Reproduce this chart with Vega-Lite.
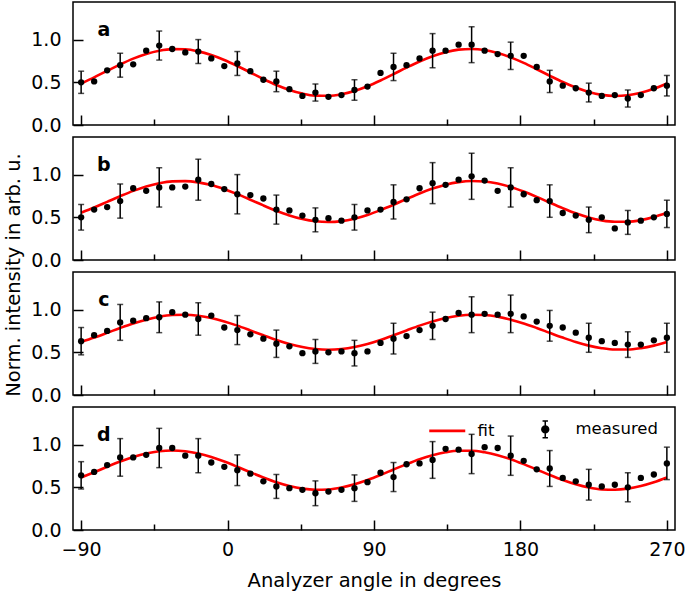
{
"$schema": "https://vega.github.io/schema/vega-lite/v6.json",
"padding": {"left": 2, "top": 1, "right": 0, "bottom": 0},
"background": "white",
"datasets": {"m": [
{"p":"a","x":-90,"v":0.50,"e":0.13,"f":0.486},{"p":"a","x":-82,"v":0.51,"f":0.558},{"p":"a","x":-74,"v":0.64,"f":0.634},{"p":"a","x":-66,"v":0.70,"e":0.14,"f":0.709},{"p":"a","x":-58,"v":0.71,"f":0.777},{"p":"a","x":-50,"v":0.87,"f":0.832},{"p":"a","x":-42,"v":0.93,"e":0.17,"f":0.870},{"p":"a","x":-34,"v":0.89,"f":0.888},{"p":"a","x":-26,"v":0.85,"f":0.886},{"p":"a","x":-18,"v":0.86,"e":0.14,"f":0.862},{"p":"a","x":-10,"v":0.78,"f":0.819},{"p":"a","x":-2,"v":0.69,"f":0.761},{"p":"a","x":6,"v":0.72,"e":0.14,"f":0.691},{"p":"a","x":14,"v":0.63,"f":0.615},{"p":"a","x":22,"v":0.53,"f":0.539},{"p":"a","x":30,"v":0.51,"e":0.12,"f":0.469},{"p":"a","x":38,"v":0.42,"f":0.411},{"p":"a","x":46,"v":0.34,"f":0.368},{"p":"a","x":54,"v":0.38,"e":0.10,"f":0.344},{"p":"a","x":62,"v":0.33,"f":0.342},{"p":"a","x":70,"v":0.35,"f":0.360},{"p":"a","x":78,"v":0.41,"e":0.12,"f":0.398},{"p":"a","x":86,"v":0.45,"f":0.453},{"p":"a","x":94,"v":0.61,"f":0.521},{"p":"a","x":102,"v":0.68,"e":0.16,"f":0.596},{"p":"a","x":110,"v":0.70,"f":0.672},{"p":"a","x":118,"v":0.78,"f":0.744},{"p":"a","x":126,"v":0.87,"e":0.20,"f":0.806},{"p":"a","x":134,"v":0.87,"f":0.853},{"p":"a","x":142,"v":0.94,"f":0.882},{"p":"a","x":150,"v":0.94,"e":0.21,"f":0.890},{"p":"a","x":158,"v":0.87,"f":0.877},{"p":"a","x":166,"v":0.83,"f":0.843},{"p":"a","x":174,"v":0.81,"e":0.16,"f":0.792},{"p":"a","x":182,"v":0.81,"f":0.727},{"p":"a","x":190,"v":0.68,"f":0.653},{"p":"a","x":198,"v":0.51,"e":0.13,"f":0.577},{"p":"a","x":206,"v":0.46,"f":0.503},{"p":"a","x":214,"v":0.43,"f":0.438},{"p":"a","x":222,"v":0.38,"e":0.11,"f":0.387},{"p":"a","x":230,"v":0.34,"f":0.353},{"p":"a","x":238,"v":0.35,"f":0.340},{"p":"a","x":246,"v":0.31,"e":0.10,"f":0.348},{"p":"a","x":254,"v":0.35,"f":0.377},{"p":"a","x":262,"v":0.43,"f":0.424},{"p":"a","x":270,"v":0.46,"e":0.12,"f":0.486},
{"p":"b","x":-90,"v":0.50,"e":0.15,"f":0.554},{"p":"b","x":-82,"v":0.59,"f":0.615},{"p":"b","x":-74,"v":0.62,"f":0.681},{"p":"b","x":-66,"v":0.69,"e":0.20,"f":0.747},{"p":"b","x":-58,"v":0.84,"f":0.809},{"p":"b","x":-50,"v":0.81,"f":0.861},{"p":"b","x":-42,"v":0.85,"e":0.23,"f":0.899},{"p":"b","x":-34,"v":0.85,"f":0.921},{"p":"b","x":-26,"v":0.86,"f":0.924},{"p":"b","x":-18,"v":0.94,"e":0.24,"f":0.909},{"p":"b","x":-10,"v":0.89,"f":0.877},{"p":"b","x":-2,"v":0.83,"f":0.829},{"p":"b","x":6,"v":0.77,"e":0.23,"f":0.771},{"p":"b","x":14,"v":0.76,"f":0.706},{"p":"b","x":22,"v":0.72,"f":0.639},{"p":"b","x":30,"v":0.59,"e":0.17,"f":0.576},{"p":"b","x":38,"v":0.58,"f":0.521},{"p":"b","x":46,"v":0.52,"f":0.479},{"p":"b","x":54,"v":0.47,"e":0.14,"f":0.453},{"p":"b","x":62,"v":0.49,"f":0.445},{"p":"b","x":70,"v":0.46,"f":0.455},{"p":"b","x":78,"v":0.50,"e":0.15,"f":0.484},{"p":"b","x":86,"v":0.58,"f":0.528},{"p":"b","x":94,"v":0.59,"f":0.584},{"p":"b","x":102,"v":0.68,"e":0.20,"f":0.647},{"p":"b","x":110,"v":0.71,"f":0.714},{"p":"b","x":118,"v":0.84,"f":0.779},{"p":"b","x":126,"v":0.90,"e":0.24,"f":0.836},{"p":"b","x":134,"v":0.88,"f":0.882},{"p":"b","x":142,"v":0.94,"f":0.912},{"p":"b","x":150,"v":0.98,"e":0.27,"f":0.925},{"p":"b","x":158,"v":0.93,"f":0.919},{"p":"b","x":166,"v":0.81,"f":0.895},{"p":"b","x":174,"v":0.85,"e":0.23,"f":0.855},{"p":"b","x":182,"v":0.77,"f":0.801},{"p":"b","x":190,"v":0.70,"f":0.739},{"p":"b","x":198,"v":0.69,"e":0.19,"f":0.672},{"p":"b","x":206,"v":0.55,"f":0.607},{"p":"b","x":214,"v":0.52,"f":0.547},{"p":"b","x":222,"v":0.47,"e":0.15,"f":0.498},{"p":"b","x":230,"v":0.50,"f":0.464},{"p":"b","x":238,"v":0.37,"f":0.447},{"p":"b","x":246,"v":0.44,"e":0.14,"f":0.448},{"p":"b","x":254,"v":0.46,"f":0.467},{"p":"b","x":262,"v":0.50,"f":0.504},{"p":"b","x":270,"v":0.54,"e":0.16,"f":0.554},
{"p":"c","x":-90,"v":0.63,"e":0.16,"f":0.620},{"p":"c","x":-82,"v":0.70,"f":0.672},{"p":"c","x":-74,"v":0.75,"f":0.728},{"p":"c","x":-66,"v":0.85,"e":0.21,"f":0.785},{"p":"c","x":-58,"v":0.87,"f":0.838},{"p":"c","x":-50,"v":0.90,"f":0.882},{"p":"c","x":-42,"v":0.91,"e":0.18,"f":0.916},{"p":"c","x":-34,"v":0.97,"f":0.936},{"p":"c","x":-26,"v":0.94,"f":0.940},{"p":"c","x":-18,"v":0.89,"e":0.19,"f":0.928},{"p":"c","x":-10,"v":0.93,"f":0.901},{"p":"c","x":-2,"v":0.79,"f":0.861},{"p":"c","x":6,"v":0.76,"e":0.17,"f":0.812},{"p":"c","x":14,"v":0.71,"f":0.756},{"p":"c","x":22,"v":0.66,"f":0.699},{"p":"c","x":30,"v":0.60,"e":0.16,"f":0.645},{"p":"c","x":38,"v":0.57,"f":0.598},{"p":"c","x":46,"v":0.49,"f":0.561},{"p":"c","x":54,"v":0.51,"e":0.14,"f":0.538},{"p":"c","x":62,"v":0.50,"f":0.530},{"p":"c","x":70,"v":0.51,"f":0.538},{"p":"c","x":78,"v":0.49,"e":0.15,"f":0.561},{"p":"c","x":86,"v":0.51,"f":0.598},{"p":"c","x":94,"v":0.61,"f":0.645},{"p":"c","x":102,"v":0.66,"e":0.18,"f":0.699},{"p":"c","x":110,"v":0.69,"f":0.756},{"p":"c","x":118,"v":0.76,"f":0.812},{"p":"c","x":126,"v":0.81,"e":0.16,"f":0.861},{"p":"c","x":134,"v":0.89,"f":0.901},{"p":"c","x":142,"v":0.96,"f":0.928},{"p":"c","x":150,"v":0.94,"e":0.21,"f":0.940},{"p":"c","x":158,"v":0.95,"f":0.936},{"p":"c","x":166,"v":0.94,"f":0.916},{"p":"c","x":174,"v":0.95,"e":0.22,"f":0.882},{"p":"c","x":182,"v":0.92,"f":0.838},{"p":"c","x":190,"v":0.86,"f":0.785},{"p":"c","x":198,"v":0.81,"e":0.18,"f":0.728},{"p":"c","x":206,"v":0.79,"f":0.672},{"p":"c","x":214,"v":0.73,"f":0.620},{"p":"c","x":222,"v":0.67,"e":0.17,"f":0.578},{"p":"c","x":230,"v":0.63,"f":0.548},{"p":"c","x":238,"v":0.61,"f":0.532},{"p":"c","x":246,"v":0.59,"e":0.15,"f":0.532},{"p":"c","x":254,"v":0.59,"f":0.548},{"p":"c","x":262,"v":0.64,"f":0.578},{"p":"c","x":270,"v":0.67,"e":0.17,"f":0.620},
{"p":"d","x":-90,"v":0.64,"e":0.16,"f":0.614},{"p":"d","x":-82,"v":0.68,"f":0.676},{"p":"d","x":-74,"v":0.76,"f":0.740},{"p":"d","x":-66,"v":0.85,"e":0.22,"f":0.801},{"p":"d","x":-58,"v":0.85,"f":0.854},{"p":"d","x":-50,"v":0.88,"f":0.895},{"p":"d","x":-42,"v":0.96,"e":0.23,"f":0.921},{"p":"d","x":-34,"v":0.96,"f":0.930},{"p":"d","x":-26,"v":0.87,"f":0.921},{"p":"d","x":-18,"v":0.87,"e":0.20,"f":0.895},{"p":"d","x":-10,"v":0.79,"f":0.854},{"p":"d","x":-2,"v":0.74,"f":0.801},{"p":"d","x":6,"v":0.70,"e":0.18,"f":0.740},{"p":"d","x":14,"v":0.66,"f":0.676},{"p":"d","x":22,"v":0.57,"f":0.614},{"p":"d","x":30,"v":0.51,"e":0.14,"f":0.558},{"p":"d","x":38,"v":0.49,"f":0.514},{"p":"d","x":46,"v":0.47,"f":0.484},{"p":"d","x":54,"v":0.43,"e":0.145,"f":0.471},{"p":"d","x":62,"v":0.45,"f":0.475},{"p":"d","x":70,"v":0.47,"f":0.497},{"p":"d","x":78,"v":0.49,"e":0.155,"f":0.535},{"p":"d","x":86,"v":0.56,"f":0.585},{"p":"d","x":94,"v":0.67,"f":0.644},{"p":"d","x":102,"v":0.62,"e":0.17,"f":0.708},{"p":"d","x":110,"v":0.77,"f":0.771},{"p":"d","x":118,"v":0.78,"f":0.829},{"p":"d","x":126,"v":0.82,"e":0.215,"f":0.876},{"p":"d","x":134,"v":0.95,"f":0.910},{"p":"d","x":142,"v":0.94,"f":0.928},{"p":"d","x":150,"v":0.89,"e":0.23,"f":0.928},{"p":"d","x":158,"v":0.97,"f":0.910},{"p":"d","x":166,"v":0.96,"f":0.876},{"p":"d","x":174,"v":0.87,"e":0.23,"f":0.829},{"p":"d","x":182,"v":0.81,"f":0.771},{"p":"d","x":190,"v":0.71,"f":0.708},{"p":"d","x":198,"v":0.72,"e":0.21,"f":0.644},{"p":"d","x":206,"v":0.61,"f":0.585},{"p":"d","x":214,"v":0.57,"f":0.535},{"p":"d","x":222,"v":0.53,"e":0.18,"f":0.497},{"p":"d","x":230,"v":0.51,"f":0.475},{"p":"d","x":238,"v":0.53,"f":0.471},{"p":"d","x":246,"v":0.50,"e":0.17,"f":0.484},{"p":"d","x":254,"v":0.61,"f":0.514},{"p":"d","x":262,"v":0.65,"f":0.558},{"p":"d","x":270,"v":0.78,"e":0.19,"f":0.614}
]},
"spacing": 12,
"bounds": "flush",
"vconcat": [
{"width": 602, "height": 123, "data": {"name": "m"},
 "layer": [
  {"transform": [{"filter": "datum.p === 'a'"}],
   "mark": {"type": "line", "color": "#ff0000", "strokeWidth": 2.6, "interpolate": "monotone"},
   "encoding": {
    "x": {"field": "x", "type": "quantitative", "scale": {"domain": [-95, 275], "nice": false, "zero": false}, "axis": {"values": [-90, 0, 90, 180, 270], "labels": false, "title": null}},
    "y": {"field": "f", "type": "quantitative", "scale": {"domain": [0, 1.44], "nice": false}, "axis": {"values": [0, 0.5, 1], "format": ".1f", "title": null}}}},
  {"transform": [{"filter": "datum.p === 'a' && isValid(datum.e)"}],
   "mark": {"type": "errorbar", "ticks": {"size": 6, "thickness": 1.5, "color": "#000000"}, "thickness": 1.5, "color": "#000000"},
   "encoding": {"x": {"field": "x", "type": "quantitative", "axis": null}, "y": {"field": "v", "type": "quantitative", "title": null}, "yError": {"field": "e"}}},
  {"transform": [{"filter": "datum.p === 'a'"}],
   "mark": {"type": "point", "filled": true, "color": "#000000", "size": 40, "opacity": 1},
   "encoding": {"x": {"field": "x", "type": "quantitative", "axis": {"values": [-45, 45, 135, 225], "labels": false, "title": null, "tickSize": -6, "orient": "bottom"}}, "y": {"field": "v", "type": "quantitative", "title": null}}},
  {"data": {"values": [{"t": "a"}]},
   "mark": {"type": "text", "fontWeight": "bold", "fontSize": 19, "align": "center", "baseline": "alphabetic", "color": "#000000"},
   "encoding": {"x": {"datum": -76, "type": "quantitative", "axis": null}, "y": {"datum": 1.045, "type": "quantitative"}, "text": {"field": "t"}}}
 ],
 "resolve": {"axis": {"x": "independent"}}},
{"width": 602, "height": 123, "data": {"name": "m"},
 "layer": [
  {"transform": [{"filter": "datum.p === 'b'"}],
   "mark": {"type": "line", "color": "#ff0000", "strokeWidth": 2.6, "interpolate": "monotone"},
   "encoding": {
    "x": {"field": "x", "type": "quantitative", "scale": {"domain": [-95, 275], "nice": false, "zero": false}, "axis": {"values": [-90, 0, 90, 180, 270], "labels": false, "title": null}},
    "y": {"field": "f", "type": "quantitative", "scale": {"domain": [0, 1.44], "nice": false}, "axis": {"values": [0, 0.5, 1], "format": ".1f", "title": null}}}},
  {"transform": [{"filter": "datum.p === 'b' && isValid(datum.e)"}],
   "mark": {"type": "errorbar", "ticks": {"size": 6, "thickness": 1.5, "color": "#000000"}, "thickness": 1.5, "color": "#000000"},
   "encoding": {"x": {"field": "x", "type": "quantitative", "axis": null}, "y": {"field": "v", "type": "quantitative", "title": null}, "yError": {"field": "e"}}},
  {"transform": [{"filter": "datum.p === 'b'"}],
   "mark": {"type": "point", "filled": true, "color": "#000000", "size": 40, "opacity": 1},
   "encoding": {"x": {"field": "x", "type": "quantitative", "axis": {"values": [-45, 45, 135, 225], "labels": false, "title": null, "tickSize": -6, "orient": "bottom"}}, "y": {"field": "v", "type": "quantitative", "title": null}}},
  {"data": {"values": [{"t": "b"}]},
   "mark": {"type": "text", "fontWeight": "bold", "fontSize": 19, "align": "center", "baseline": "alphabetic", "color": "#000000"},
   "encoding": {"x": {"datum": -76, "type": "quantitative", "axis": null}, "y": {"datum": 1.045, "type": "quantitative"}, "text": {"field": "t"}}}
 ],
 "resolve": {"axis": {"x": "independent"}}},
{"width": 602, "height": 123, "data": {"name": "m"},
 "layer": [
  {"transform": [{"filter": "datum.p === 'c'"}],
   "mark": {"type": "line", "color": "#ff0000", "strokeWidth": 2.6, "interpolate": "monotone"},
   "encoding": {
    "x": {"field": "x", "type": "quantitative", "scale": {"domain": [-95, 275], "nice": false, "zero": false}, "axis": {"values": [-90, 0, 90, 180, 270], "labels": false, "title": null}},
    "y": {"field": "f", "type": "quantitative", "scale": {"domain": [0, 1.44], "nice": false}, "title": "Norm. intensity in arb. u.", "axis": {"values": [0, 0.5, 1], "format": ".1f", "titleX": -60, "titleY": 2.5, "titleAngle": 270, "titleAlign": "center", "titleBaseline": "middle"}}}},
  {"transform": [{"filter": "datum.p === 'c' && isValid(datum.e)"}],
   "mark": {"type": "errorbar", "ticks": {"size": 6, "thickness": 1.5, "color": "#000000"}, "thickness": 1.5, "color": "#000000"},
   "encoding": {"x": {"field": "x", "type": "quantitative", "axis": null}, "y": {"field": "v", "type": "quantitative", "title": "Norm. intensity in arb. u."}, "yError": {"field": "e"}}},
  {"transform": [{"filter": "datum.p === 'c'"}],
   "mark": {"type": "point", "filled": true, "color": "#000000", "size": 40, "opacity": 1},
   "encoding": {"x": {"field": "x", "type": "quantitative", "axis": {"values": [-45, 45, 135, 225], "labels": false, "title": null, "tickSize": -6, "orient": "bottom"}}, "y": {"field": "v", "type": "quantitative", "title": "Norm. intensity in arb. u."}}},
  {"data": {"values": [{"t": "c"}]},
   "mark": {"type": "text", "fontWeight": "bold", "fontSize": 19, "align": "center", "baseline": "alphabetic", "color": "#000000"},
   "encoding": {"x": {"datum": -76, "type": "quantitative", "axis": null}, "y": {"datum": 1.045, "type": "quantitative"}, "text": {"field": "t"}}}
 ],
 "resolve": {"axis": {"x": "independent"}}},
{"width": 602, "height": 123, "data": {"name": "m"},
 "layer": [
  {"transform": [{"filter": "datum.p === 'd'"}],
   "mark": {"type": "line", "strokeWidth": 2.6, "interpolate": "monotone"},
   "encoding": {
    "x": {"field": "x", "type": "quantitative", "scale": {"domain": [-95, 275], "nice": false, "zero": false}, "axis": {"values": [-90, 0, 90, 180, 270], "format": "d", "title": "Analyzer angle in degrees", "titlePadding": 12}},
    "y": {"field": "f", "type": "quantitative", "scale": {"domain": [0, 1.44], "nice": false}, "axis": {"values": [0, 0.5, 1], "format": ".1f", "title": null}},
    "color": {"datum": "fit", "type": "nominal", "scale": {"domain": ["fit", "measured"], "range": ["#ff0000", "#000000"]},
      "legend": {"orient": "none", "legendX": 366, "legendY": 419, "direction": "horizontal", "title": null, "padding": 0, "symbolSize": 1296, "symbolOffset": 0, "labelFontSize": 16.5, "labelFont": "DejaVu Sans", "labelColor": "#000000", "labelOffset": 22, "columnPadding": 42,
        "encode": {"symbols": {"update": {
          "shape": {"signal": "datum.value === 'fit' ? 'stroke' : 'M -0.19 0 A 0.19 0.19 0 1 0 0.19 0 A 0.19 0.19 0 1 0 -0.19 0 Z M 0 -0.47 L 0 0.47 M -0.15 -0.47 L 0.15 -0.47 M -0.15 0.47 L 0.15 0.47'"},
          "stroke": {"signal": "datum.value === 'fit' ? '#ff0000' : '#000000'"},
          "fill": {"signal": "datum.value === 'fit' ? 'transparent' : '#000000'"},
          "strokeWidth": {"signal": "datum.value === 'fit' ? 2.6 : 1.5"},
          "opacity": {"value": 1}}}}}}}},
  {"transform": [{"filter": "datum.p === 'd' && isValid(datum.e)"}],
   "mark": {"type": "errorbar", "ticks": {"size": 6, "thickness": 1.5, "color": "#000000"}, "thickness": 1.5, "color": "#000000"},
   "encoding": {"x": {"field": "x", "type": "quantitative", "axis": null}, "y": {"field": "v", "type": "quantitative", "title": null}, "yError": {"field": "e"}}},
  {"transform": [{"filter": "datum.p === 'd'"}],
   "mark": {"type": "point", "filled": true, "size": 40, "opacity": 1},
   "encoding": {"x": {"field": "x", "type": "quantitative", "axis": {"values": [-45, 45, 135, 225], "labels": false, "title": null, "tickSize": -6, "orient": "bottom"}}, "y": {"field": "v", "type": "quantitative", "title": null}, "color": {"datum": "measured", "type": "nominal"}}},
  {"data": {"values": [{"t": "d"}]},
   "mark": {"type": "text", "fontWeight": "bold", "fontSize": 19, "align": "center", "baseline": "alphabetic", "color": "#000000"},
   "encoding": {"x": {"datum": -76, "type": "quantitative", "axis": null}, "y": {"datum": 1.045, "type": "quantitative"}, "text": {"field": "t"}}}
 ],
 "resolve": {"axis": {"x": "independent"}}}
],
"config": {
 "font": "DejaVu Sans",
 "view": {"stroke": "#000000", "strokeWidth": 1.5},
 "axis": {"domain": false, "grid": false, "ticks": true, "tickColor": "#000000", "tickWidth": 1.5, "tickSize": -10, "labelFont": "DejaVu Sans", "labelFontSize": 19, "labelColor": "#000000", "titleFont": "DejaVu Sans", "titleFontSize": 19.5, "titleFontWeight": "normal", "titleColor": "#000000", "labelFlush": false, "labelOverlap": false},
 "axisY": {"labelPadding": 22},
 "axisX": {"labelPadding": 20}
}
}
